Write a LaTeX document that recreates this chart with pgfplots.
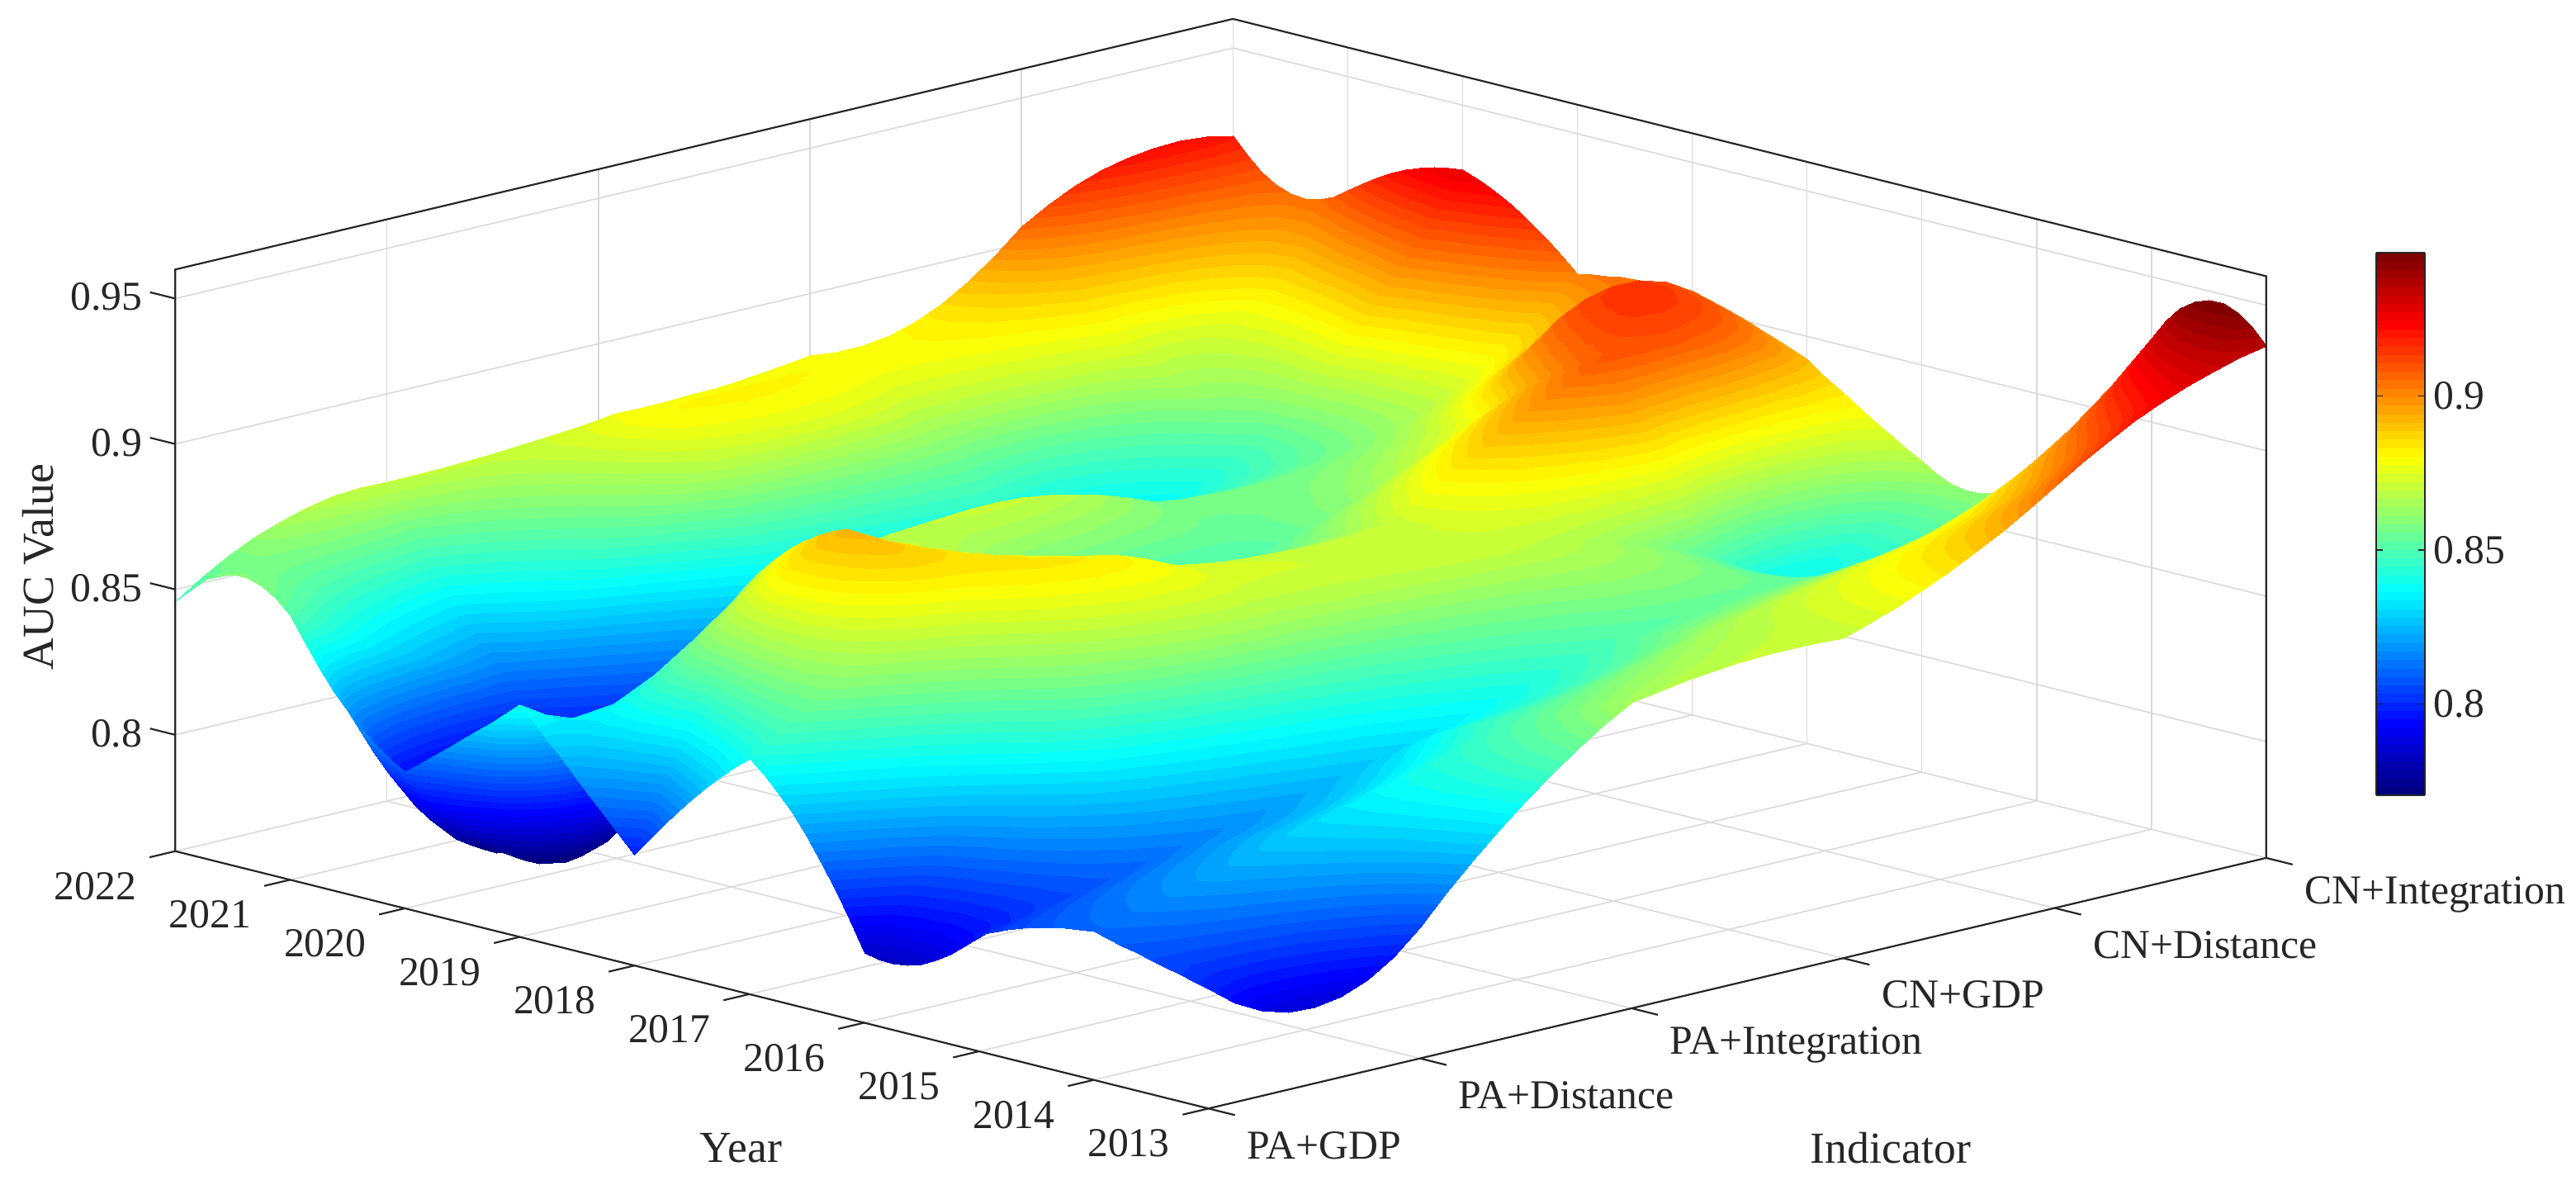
\documentclass[border=0pt]{standalone}
\usepackage{fontspec}
\setmainfont{Liberation Serif}
\usepackage{pgfplots}
\usepgfplotslibrary{patchplots}
\pgfplotsset{compat=1.18}
\definecolor{txt}{gray}{0.15}
\pgfplotsset{colormap/jet,colormap={jetbands}{samples of colormap=(64 of jet)}}
\begin{document}
\begin{tikzpicture}
\path[use as bounding box] (0,0) rectangle (1568pt,724pt);
\begin{axis}[
  at={(106.7pt,49.4pt)},anchor=south west,
  x dir=reverse,
  x={(69.88pt,-17.4pt)},y={(128.76pt,30.5pt)},z={(0pt,1770pt)},
  xmin=2013,xmax=2022,ymin=1,ymax=6,zmin=0.76,zmax=0.96,
  clip=false,
  font=\fontsize{25}{25}\selectfont,
  /pgf/number format/assume math mode=true,
  tick label style={text=txt},
  label style={text=txt,font=\fontsize{27}{27}\selectfont},
  xtick={2013,...,2022},
  xticklabels={2013,2014,2015,2016,2017,2018,2019,2020,2021,2022},
  ytick={1,...,6},
  yticklabels={PA+GDP,PA+Distance,PA+Integration,CN+GDP,CN+Distance,CN+Integration},
  ztick={0.8,0.85,0.9,0.95},zticklabels={0.8,0.85,0.9,0.95},
  xtick pos=left,ytick pos=left,ztick pos=left,
  xticklabel style={anchor=center,xshift=-35pt,yshift=-18pt},
  yticklabel style={anchor=west,xshift=6.5pt,yshift=-19pt},
  zticklabel style={xshift=-3pt,yshift=4pt},
  xmajorgrids,ymajorgrids,zmajorgrids,
  grid style={gray!30,line width=0.8pt},
  tick align=outside,major tick length=14pt,
  tick style={draw=none},
  axis line style={draw=none},
  xlabel={Year},ylabel={Indicator},zlabel={AUC Value},
  xlabel style={at={(axis cs:2014.26,-0.503,0.76)},anchor=center,xshift=-3pt},
  ylabel style={at={(axis cs:2009.4,2.271,0.76)},anchor=center,rotate=0},
  zlabel style={at={(axis cs:2027.66,3.44,0.76)},anchor=center,rotate=0,yshift=2pt},
  colormap name=jetbands,
  colormap access=piecewise constant,
  point meta min=0.7703,point meta max=0.9466,
  colorbar,
  colorbar style={
    at={(parent axis.south west)},anchor=south west,
    xshift=1331.3pt,yshift=190.4pt,
    scale only axis,width=29.3pt,height=330.6pt,
    ytick={0.8,0.85,0.9},yticklabels={0.8,0.85,0.9},
    yticklabel pos=right,tick align=inside,major tick length=4pt,
    tick style={draw=txt,line width=0.8pt},
    axis line style={draw=txt,line width=1pt},
    font=\fontsize{25}{25}\selectfont,
    yticklabel style={text=txt,xshift=2pt},
  },
]
\addplot3[patch,patch type=biquadratic,patch refines=2,patch to triangles,shader=interp,z buffer=sort,point meta=z,
  table/row sep=\\,
  patch table={
0 22 24 2 11 23 13 1 12\\ 2 24 26 4 13 25 15 3 14\\ 4 26 28 6 15 27 17 5 16\\ 6 28 30 8 17 29 19 7 18\\ 8 30 32 10 19 31 21 9 20\\
22 44 46 24 33 45 35 23 34\\ 24 46 48 26 35 47 37 25 36\\ 26 48 50 28 37 49 39 27 38\\ 28 50 52 30 39 51 41 29 40\\ 30 52 54 32 41 53 43 31 42\\
44 66 68 46 55 67 57 45 56\\ 46 68 70 48 57 69 59 47 58\\ 48 70 72 50 59 71 61 49 60\\ 50 72 74 52 61 73 63 51 62\\ 52 74 76 54 63 75 65 53 64\\
66 88 90 68 77 89 79 67 78\\ 68 90 92 70 79 91 81 69 80\\ 70 92 94 72 81 93 83 71 82\\ 72 94 96 74 83 95 85 73 84\\ 74 96 98 76 85 97 87 75 86\\
88 110 112 90 99 111 101 89 100\\ 90 112 114 92 101 113 103 91 102\\ 92 114 116 94 103 115 105 93 104\\ 94 116 118 96 105 117 107 95 106\\ 96 118 120 98 107 119 109 97 108\\
110 132 134 112 121 133 123 111 122\\ 112 134 136 114 123 135 125 113 124\\ 114 136 138 116 125 137 127 115 126\\ 116 138 140 118 127 139 129 117 128\\ 118 140 142 120 129 141 131 119 130\\
132 154 156 134 143 155 145 133 144\\ 134 156 158 136 145 157 147 135 146\\ 136 158 160 138 147 159 149 137 148\\ 138 160 162 140 149 161 151 139 150\\ 140 162 164 142 151 163 153 141 152\\
154 176 178 156 165 177 167 155 166\\ 156 178 180 158 167 179 169 157 168\\ 158 180 182 160 169 181 171 159 170\\ 160 182 184 162 171 183 173 161 172\\ 162 184 186 164 173 185 175 163 174\\
176 198 200 178 187 199 189 177 188\\ 178 200 202 180 189 201 191 179 190\\ 180 202 204 182 191 203 193 181 192\\ 182 204 206 184 193 205 195 183 194\\ 184 206 208 186 195 207 197 185 196\\
}] table[x index=0,y index=1,z index=2] {
x y z\\
2013 1 .801\\2013 1.5 .786\\2013 2 .805\\2013 2.5 .840\\2013 3 .865\\2013 3.5 .870\\2013 4 .870\\2013 4.5 .884\\2013 5 .905\\2013 5.5 .925\\2013 6 .936\\
2013.5 1 .806\\2013.5 1.5 .809\\2013.5 2 .8225\\2013.5 2.5 .842\\2013.5 3 .858\\2013.5 3.5 .865\\2013.5 4 .870\\2013.5 4.5 .880\\2013.5 5 .892\\2013.5 5.5 .912\\2013.5 6 .947\\
2014 1 .811\\2014 1.5 .820\\2014 2 .830\\2014 2.5 .840\\2014 3 .850\\2014 3.5 .858\\2014 4 .866\\2014 4.5 .873\\2014 5 .880\\2014 5.5 .897\\2014 6 .929\\
2014.5 1 .8075\\2014.5 1.5 .815\\2014.5 2 .822\\2014.5 2.5 .829\\2014.5 3 .842\\2014.5 3.5 .847\\2014.5 4 .857\\2014.5 4.5 .862\\2014.5 5 .867\\2014.5 5.5 .878\\2014.5 6 .900\\
2015 1 .800\\2015 1.5 .807\\2015 2 .815\\2015 2.5 .822\\2015 3 .830\\2015 3.5 .840\\2015 4 .850\\2015 4.5 .854\\2015 5 .855\\2015 5.5 .855\\2015 6 .872\\
2015.5 1 .785\\2015.5 1.5 .811\\2015.5 2 .829\\2015.5 2.5 .839\\2015.5 3 .846\\2015.5 3.5 .853\\2015.5 4 .859\\2015.5 4.5 .861\\2015.5 5 .850\\2015.5 5.5 .845\\2015.5 6 .861\\
2016 1 .784\\2016 1.5 .822\\2016 2 .849\\2016 2.5 .861\\2016 3 .865\\2016 3.5 .868\\2016 4 .870\\2016 4.5 .865\\2016 5 .852\\2016 5.5 .840\\2016 6 .867\\
2016.5 1 .819\\2016.5 1.5 .843\\2016.5 2 .864\\2016.5 2.5 .876\\2016.5 3 .873\\2016.5 3.5 .872\\2016.5 4 .872\\2016.5 4.5 .878\\2016.5 5 .885\\2016.5 5.5 .875\\2016.5 6 .879\\
2017 1 .841\\2017 1.5 .863\\2017 2 .876\\2017 2.5 .884\\2017 3 .873\\2017 3.5 .869\\2017 4 .870\\2017 4.5 .890\\2017 5 .908\\2017 5.5 .907\\2017 6 .892\\
2017.5 1 .822\\2017.5 1.5 .868\\2017.5 2 .888\\2017.5 2.5 .880\\2017.5 3 .861\\2017.5 3.5 .857\\2017.5 4 .861\\2017.5 4.5 .879\\2017.5 5 .897\\2017.5 5.5 .915\\2017.5 6 .900\\
2018 1 .798\\2018 1.5 .865\\2018 2 .893\\2018 2.5 .872\\2018 3 .850\\2018 3.5 .847\\2018 4 .852\\2018 4.5 .864\\2018 5 .880\\2018 5.5 .912\\2018 6 .906\\
2018.5 1 .819\\2018.5 1.5 .854\\2018.5 2 .881\\2018.5 2.5 .873\\2018.5 3 .862\\2018.5 3.5 .859\\2018.5 4 .855\\2018.5 4.5 .859\\2018.5 5 .869\\2018.5 5.5 .890\\2018.5 6 .905\\
2019 1 .840\\2019 1.5 .831\\2019 2 .858\\2019 2.5 .866\\2019 3 .870\\2019 3.5 .869\\2019 4 .858\\2019 4.5 .856\\2019 5 .860\\2019 5.5 .876\\2019 6 .902\\
2019.5 1 .823\\2019.5 1.5 .778\\2019.5 2 .800\\2019.5 2.5 .827\\2019.5 3 .840\\2019.5 3.5 .848\\2019.5 4 .848\\2019.5 4.5 .846\\2019.5 5 .854\\2019.5 5.5 .878\\2019.5 6 .918\\
2020 1 .807\\2020 1.5 .772\\2020 2 .782\\2020 2.5 .795\\2020 3 .815\\2020 3.5 .829\\2020 4 .835\\2020 4.5 .836\\2020 5 .850\\2020 5.5 .883\\2020 6 .928\\
2020.5 1 .823\\2020.5 1.5 .778\\2020.5 2 .790\\2020.5 2.5 .814\\2020.5 3 .838\\2020.5 3.5 .846\\2020.5 4 .849\\2020.5 4.5 .846\\2020.5 5 .861\\2020.5 5.5 .878\\2020.5 6 .923\\
2021 1 .851\\2021 1.5 .830\\2021 2 .815\\2021 2.5 .845\\2021 3 .869\\2021 3.5 .874\\2021 4 .867\\2021 4.5 .868\\2021 5 .873\\2021 5.5 .877\\2021 6 .911\\
2021.5 1 .860\\2021.5 1.5 .850\\2021.5 2 .840\\2021.5 2.5 .861\\2021.5 3 .880\\2021.5 3.5 .881\\2021.5 4 .879\\2021.5 4.5 .880\\2021.5 5 .888\\2021.5 5.5 .893\\2021.5 6 .905\\
2022 1 .846\\2022 1.5 .865\\2022 2 .870\\2022 2.5 .871\\2022 3 .874\\2022 3.5 .875\\2022 4 .879\\2022 4.5 .882\\2022 5 .906\\2022 5.5 .921\\2022 6 .920\\
};
\draw[txt,line width=1.1pt] (axis cs:2022,1,0.76) -- (axis cs:2013,1,0.76) -- (axis cs:2013,6,0.76) -- (axis cs:2013,6,0.96) -- (axis cs:2022,6,0.96) -- (axis cs:2022,1,0.96) -- cycle;
\pgfplotsinvokeforeach{2013,...,2022}{\draw[txt,line width=1.1pt] (axis cs:#1,1,0.76) -- (axis cs:#1,0.878,0.76);}
\pgfplotsinvokeforeach{1,...,6}{\draw[txt,line width=1.1pt] (axis cs:2013,#1,0.76) -- (axis cs:2012.77,#1,0.76);}
\pgfplotsinvokeforeach{0.8,0.85,0.9,0.95}{\draw[txt,line width=1.1pt] (axis cs:2022,1,#1) -- (axis cs:2022.22,1,#1);}
\end{axis}
\end{tikzpicture}
\end{document}
